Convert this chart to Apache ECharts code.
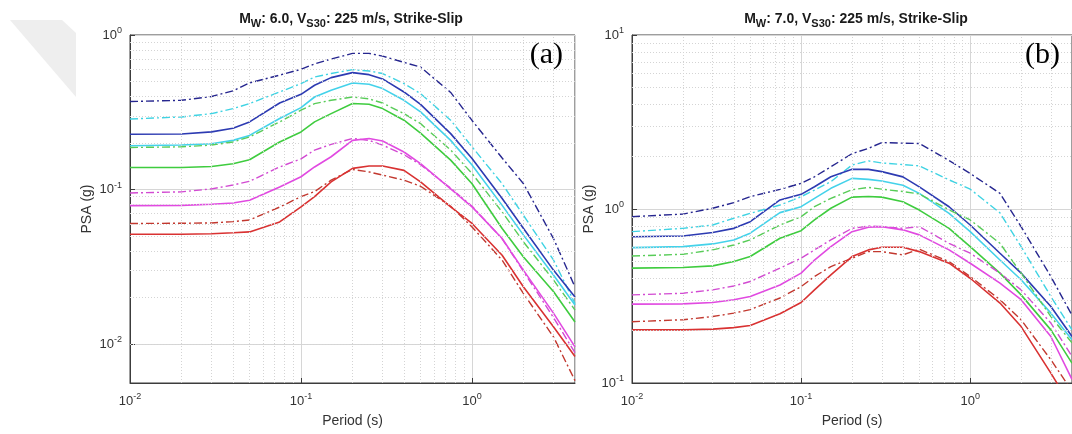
<!DOCTYPE html>
<html>
<head>
<meta charset="utf-8">
<title>PSA spectra</title>
<script src="https://cdn.jsdelivr.net/npm/echarts@6/dist/echarts.min.js"></script>
<style>
  html, body { margin: 0; padding: 0; background: #fff; }
  #chart { width: 1072px; height: 434px; }
</style>
</head>
<body>
<div id="chart"></div>
<script>
// Spectral periods (s)
const periods = [0.01, 0.02, 0.03, 0.04, 0.05, 0.075, 0.1, 0.12, 0.15, 0.2, 0.25, 0.3, 0.4, 0.5, 0.75, 1, 1.5, 2, 3, 4];

// Panel (a): Mw 6.0 — PSA (g)
const a_navyDash   = [0.371, 0.378, 0.400, 0.435, 0.490, 0.550, 0.600, 0.650, 0.700, 0.760, 0.760, 0.730, 0.665, 0.620, 0.425, 0.280, 0.160, 0.109, 0.048, 0.0234];
const a_cyanDash   = [0.286, 0.295, 0.310, 0.334, 0.360, 0.428, 0.485, 0.535, 0.563, 0.597, 0.585, 0.563, 0.485, 0.418, 0.281, 0.189, 0.109, 0.068, 0.0349, 0.0183];
const a_blue       = [0.228, 0.229, 0.236, 0.249, 0.274, 0.363, 0.413, 0.473, 0.530, 0.571, 0.554, 0.520, 0.428, 0.356, 0.230, 0.159, 0.0874, 0.056, 0.030, 0.0202];
const a_cyan       = [0.192, 0.194, 0.198, 0.208, 0.224, 0.288, 0.339, 0.397, 0.439, 0.489, 0.480, 0.450, 0.378, 0.318, 0.208, 0.144, 0.079, 0.0507, 0.0279, 0.0179];
const a_greenDash  = [0.187, 0.189, 0.194, 0.203, 0.219, 0.274, 0.326, 0.360, 0.378, 0.397, 0.386, 0.363, 0.310, 0.267, 0.180, 0.127, 0.0716, 0.0458, 0.0259, 0.0166];
const a_green      = [0.139, 0.139, 0.141, 0.147, 0.156, 0.203, 0.236, 0.274, 0.310, 0.360, 0.356, 0.334, 0.281, 0.232, 0.155, 0.109, 0.056, 0.0366, 0.0218, 0.0139];
const a_magentaDash= [0.095, 0.0966, 0.101, 0.107, 0.113, 0.140, 0.158, 0.180, 0.196, 0.214, 0.208, 0.194, 0.168, 0.145, 0.102, 0.078, 0.048, 0.0295, 0.0148, 0.0088];
const a_magenta    = [0.0787, 0.079, 0.0804, 0.0819, 0.0853, 0.104, 0.121, 0.140, 0.163, 0.208, 0.214, 0.206, 0.175, 0.147, 0.101, 0.0772, 0.0482, 0.030, 0.0158, 0.0096];
const a_redDash    = [0.0603, 0.0605, 0.0608, 0.062, 0.0635, 0.077, 0.090, 0.097, 0.115, 0.135, 0.130, 0.124, 0.115, 0.105, 0.078, 0.0573, 0.0349, 0.0212, 0.0111, 0.0058];
const a_red        = [0.0514, 0.0514, 0.0518, 0.0525, 0.0532, 0.0617, 0.0772, 0.090, 0.112, 0.137, 0.142, 0.142, 0.133, 0.112, 0.0772, 0.0603, 0.0376, 0.0234, 0.0129, 0.0083];

// Panel (b): Mw 7.0 — PSA (g)
const b_navyDash   = [0.903, 0.935, 1.01, 1.087, 1.177, 1.297, 1.404, 1.532, 1.748, 2.08, 2.23, 2.41, 2.39, 2.38, 1.90, 1.60, 1.23, 0.792, 0.409, 0.245];
const b_cyanDash   = [0.741, 0.774, 0.809, 0.885, 0.944, 1.054, 1.177, 1.285, 1.436, 1.79, 1.89, 1.84, 1.80, 1.77, 1.47, 1.30, 0.95, 0.608, 0.314, 0.202];
const b_blue       = [0.693, 0.700, 0.732, 0.774, 0.846, 1.127, 1.214, 1.343, 1.532, 1.69, 1.69, 1.64, 1.53, 1.34, 1.03, 0.809, 0.557, 0.428, 0.275, 0.185];
const b_cyan       = [0.600, 0.608, 0.630, 0.664, 0.726, 0.953, 1.031, 1.151, 1.315, 1.50, 1.48, 1.45, 1.37, 1.23, 0.944, 0.741, 0.509, 0.392, 0.252, 0.177];
const b_greenDash  = [0.537, 0.549, 0.582, 0.621, 0.664, 0.809, 0.903, 1.031, 1.151, 1.29, 1.33, 1.30, 1.26, 1.22, 0.99, 0.865, 0.635, 0.428, 0.241, 0.170];
const b_green      = [0.457, 0.461, 0.471, 0.499, 0.533, 0.679, 0.751, 0.865, 1.010, 1.17, 1.18, 1.17, 1.10, 0.986, 0.774, 0.608, 0.428, 0.321, 0.202, 0.130];
const b_magentaDash= [0.321, 0.328, 0.343, 0.361, 0.383, 0.457, 0.522, 0.582, 0.664, 0.774, 0.798, 0.792, 0.774, 0.792, 0.635, 0.557, 0.428, 0.343, 0.221, 0.142];
const b_magenta    = [0.284, 0.285, 0.290, 0.301, 0.314, 0.366, 0.428, 0.509, 0.608, 0.741, 0.785, 0.792, 0.759, 0.710, 0.582, 0.488, 0.375, 0.301, 0.185, 0.105];
const b_redDash    = [0.225, 0.231, 0.241, 0.252, 0.264, 0.308, 0.358, 0.409, 0.467, 0.521, 0.569, 0.569, 0.545, 0.587, 0.499, 0.409, 0.301, 0.231, 0.136, 0.090];
const b_red        = [0.202, 0.202, 0.204, 0.208, 0.214, 0.250, 0.290, 0.343, 0.418, 0.533, 0.582, 0.603, 0.603, 0.569, 0.488, 0.400, 0.288, 0.211, 0.114, 0.072];

// Minor grid positions (2..9 within each decade)
const xMinorTicks  = [0.02, 0.03, 0.04, 0.05, 0.06, 0.07, 0.08, 0.09, 0.2, 0.3, 0.4, 0.5, 0.6, 0.7, 0.8, 0.9, 2, 3];
const yMinorTicksA = [0.006, 0.007, 0.008, 0.009, 0.02, 0.03, 0.04, 0.05, 0.06, 0.07, 0.08, 0.09, 0.2, 0.3, 0.4, 0.5, 0.6, 0.7, 0.8, 0.9];
const yMinorTicksB = [0.2, 0.3, 0.4, 0.5, 0.6, 0.7, 0.8, 0.9, 2, 3, 4, 5, 6, 7, 8, 9];

// Line styles, in drawing order
const DASHDOT = [8, 3, 2, 3];
const styles = [
  { color: '#26268f', dash: true },
  { color: '#3fd3e3', dash: true },
  { color: '#2d3bb2', dash: false },
  { color: '#44d2ea', dash: false },
  { color: '#58cc58', dash: true },
  { color: '#3fcc3f', dash: false },
  { color: '#d24ad2', dash: true },
  { color: '#e14ae1', dash: false },
  { color: '#c2382f', dash: true },
  { color: '#d93232', dash: false }
];
const panelA = [a_navyDash, a_cyanDash, a_blue, a_cyan, a_greenDash, a_green, a_magentaDash, a_magenta, a_redDash, a_red];
const panelB = [b_navyDash, b_cyanDash, b_blue, b_cyan, b_greenDash, b_green, b_magentaDash, b_magenta, b_redDash, b_red];

const FONT = 'Liberation Sans, Arial, Helvetica, sans-serif';
const AXIS_COLOR = '#3c3c3c';
const TEXT_COLOR = '#333333';

function powLabel(v) {
  const e = Math.log10(v);
  const r = Math.round(e);
  if (Math.abs(e - r) > 1e-6) return '';
  return '{b|10}{s|' + r + '}';
}
const labelRich = {
  b: { fontSize: 13, fontFamily: FONT, color: TEXT_COLOR },
  s: { fontSize: 9, fontFamily: FONT, color: TEXT_COLOR, padding: [0, 0, 9, 0] }
};

function makeX(gridIndex) {
  return {
    type: 'log', logBase: 10, gridIndex: gridIndex, min: 0.01, max: 4,
    name: 'Period (s)', nameLocation: 'middle', nameGap: 31,
    nameTextStyle: { fontSize: 14, fontFamily: FONT, color: TEXT_COLOR },
    axisLine: { lineStyle: { color: AXIS_COLOR, width: 1 } },
    axisTick: { inside: true, length: 5, lineStyle: { color: AXIS_COLOR } },
    axisLabel: { formatter: powLabel, rich: labelRich, margin: 9, showMinLabel: true, showMaxLabel: false },
    splitLine: { show: true, lineStyle: { color: '#d6d6d6', width: 1 } }
  };
}
function makeY(gridIndex, min, max) {
  return {
    type: 'log', logBase: 10, gridIndex: gridIndex, min: min, max: max,
    name: 'PSA (g)', nameLocation: 'middle', nameGap: 36, nameRotate: 90,
    nameTextStyle: { fontSize: 14, fontFamily: FONT, color: TEXT_COLOR },
    axisLine: { lineStyle: { color: AXIS_COLOR, width: 1 } },
    axisTick: { inside: true, length: 5, lineStyle: { color: AXIS_COLOR } },
    axisLabel: { formatter: powLabel, rich: labelRich, margin: 8 },
    splitLine: { show: true, lineStyle: { color: '#d6d6d6', width: 1 } }
  };
}

function minorGrid(axisIndex, yMinor) {
  return {
    type: 'line', xAxisIndex: axisIndex, yAxisIndex: axisIndex, data: [], z: 1, silent: true,
    markLine: {
      silent: true, symbol: 'none', animation: false,
      label: { show: false },
      lineStyle: { type: [1, 2], color: '#d4d4d4', width: 1 },
      emphasis: { disabled: true },
      data: xMinorTicks.map(v => ({ xAxis: v })).concat(yMinor.map(v => ({ yAxis: v })))
    }
  };
}

function curves(arrays, axisIndex) {
  return arrays.map((vals, i) => ({
    type: 'line', xAxisIndex: axisIndex, yAxisIndex: axisIndex, z: 3,
    data: periods.map((t, k) => [t, vals[k]]),
    showSymbol: false, symbol: 'none', smooth: false, clip: true, silent: true,
    lineStyle: { color: styles[i].color, width: styles[i].dash ? 1.4 : 1.6, type: styles[i].dash ? DASHDOT : 'solid' }
  }));
}

function titleText(mw) {
  return '{m|M}{sub|W}{m|: ' + mw + ', V}{sub|S30}{m|: 225 m/s, Strike-Slip}';
}
const titleRich = {
  m: { fontSize: 14, fontWeight: 'bold', fontFamily: FONT, fill: '#1a1a1a' },
  sub: { fontSize: 11, fontWeight: 'bold', fontFamily: FONT, fill: '#1a1a1a', padding: [8, 0, 0, 0] }
};

const chart = echarts.init(document.getElementById('chart'), null, { renderer: 'canvas' });
chart.setOption({
  animation: false,
  backgroundColor: '#ffffff',
  grid: [
    { left: 130, top: 35, width: 445, height: 348, show: true, borderColor: AXIS_COLOR, borderWidth: 1, backgroundColor: '#fff' },
    { left: 632, top: 35, width: 442, height: 348, show: true, borderColor: AXIS_COLOR, borderWidth: 1, backgroundColor: '#fff' }
  ],
  xAxis: [makeX(0), makeX(1)],
  yAxis: [makeY(0, 0.0056, 1), makeY(1, 0.1, 10)],
  series: [minorGrid(0, yMinorTicksA), minorGrid(1, yMinorTicksB)]
    .concat(curves(panelA, 0))
    .concat(curves(panelB, 1)),
  graphic: [
    { type: 'polygon', silent: true, z: -1, shape: { points: [[10, 20], [62, 20], [76, 33], [76, 97]] }, style: { fill: '#eeeeee' } },
    { type: 'text', x: 351, y: 10, silent: true, style: { text: titleText('6.0'), rich: titleRich, align: 'center', verticalAlign: 'top' } },
    { type: 'text', x: 856, y: 10, silent: true, style: { text: titleText('7.0'), rich: titleRich, align: 'center', verticalAlign: 'top' } },
    { type: 'text', x: 563, y: 55, silent: true, z: 10, style: { text: '(a)', font: '30px "Liberation Serif", "Times New Roman", serif', fill: '#000', align: 'right', verticalAlign: 'middle' } },
    { type: 'text', x: 1060, y: 55, silent: true, z: 10, style: { text: '(b)', font: '30px "Liberation Serif", "Times New Roman", serif', fill: '#000', align: 'right', verticalAlign: 'middle' } }
  ]
});
</script>
</body>
</html>
